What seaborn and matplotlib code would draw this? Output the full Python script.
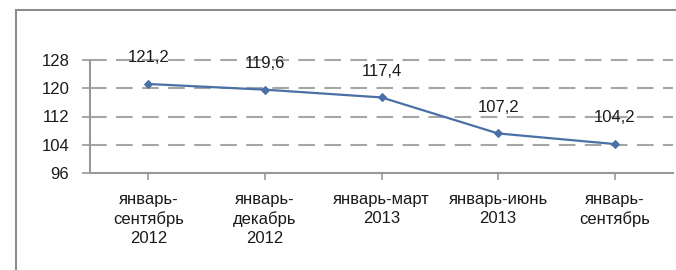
import matplotlib
matplotlib.use('Agg')
import matplotlib.pyplot as plt
import matplotlib.patches as mpatches
import seaborn as sns
import pandas as pd

# Data
periods = ['январь-\nсентябрь\n2012', 'январь-\nдекабрь\n2012', 'январь-март\n2013',
           'январь-июнь\n2013', 'январь-\nсентябрь']
values = [121.2, 119.6, 117.4, 107.2, 104.2]
value_labels = ['121,2', '119,6', '117,4', '107,2', '104,2']
y_ticks = [96, 104, 112, 120, 128]

df = pd.DataFrame({'Период': periods, 'Значение': values})

sns.set_style('white')
plt.rcParams['font.family'] = ['Liberation Sans', 'DejaVu Sans']

fig = plt.figure(figsize=(6.76, 2.70), dpi=100)
ax = fig.add_axes([90 / 676, 1 - 173 / 270, 583 / 676, 113 / 270])

line_color = '#4a70a6'
grid_color = '#a6a6a6'
text_color = '#1a1a1a'

sns.lineplot(data=df, x='Период', y='Значение', ax=ax, color=line_color,
             linewidth=1.6, marker='D', markersize=4, markeredgecolor=line_color)

# data labels
for i, (v, lab) in enumerate(zip(values, value_labels)):
    ax.annotate(lab, (i, v), xytext=(0, 19), textcoords='offset points',
                ha='center', va='center', fontsize=12, color=text_color)

ax.set_xlim(-0.5, 4.5)
ax.set_ylim(96, 128)
ax.set_yticks(y_ticks)
ax.set_yticklabels([str(t) for t in y_ticks])
ax.set_xlabel('')
ax.set_ylabel('')

# dashed horizontal grid
for t in y_ticks[1:]:
    ax.axhline(t, color=grid_color, linewidth=1.5, dashes=(8, 4.5), zorder=0,
               clip_on=False)

for side in ['top', 'right']:
    ax.spines[side].set_visible(False)
for side in ['left', 'bottom']:
    ax.spines[side].set_color('#999999')
    ax.spines[side].set_linewidth(1.5)

ax.tick_params(axis='y', length=6, width=1.2, color='#999999', pad=9,
               labelsize=12, labelcolor=text_color, left=True)
ax.tick_params(axis='x', length=5, width=1.2, color='#999999', pad=9,
               labelsize=12, labelcolor=text_color, bottom=True)
for lbl in ax.get_xticklabels():
    lbl.set_linespacing(1.3)

# outer chart frame
frame = mpatches.Rectangle((16 / 676, -0.2), 1.2, 1.2 - 10 / 270,
                           transform=fig.transFigure, fill=False,
                           edgecolor='#8c8c8c', linewidth=1.5, clip_on=False)
fig.patches.append(frame)

fig.savefig('out.png', dpi=100)
